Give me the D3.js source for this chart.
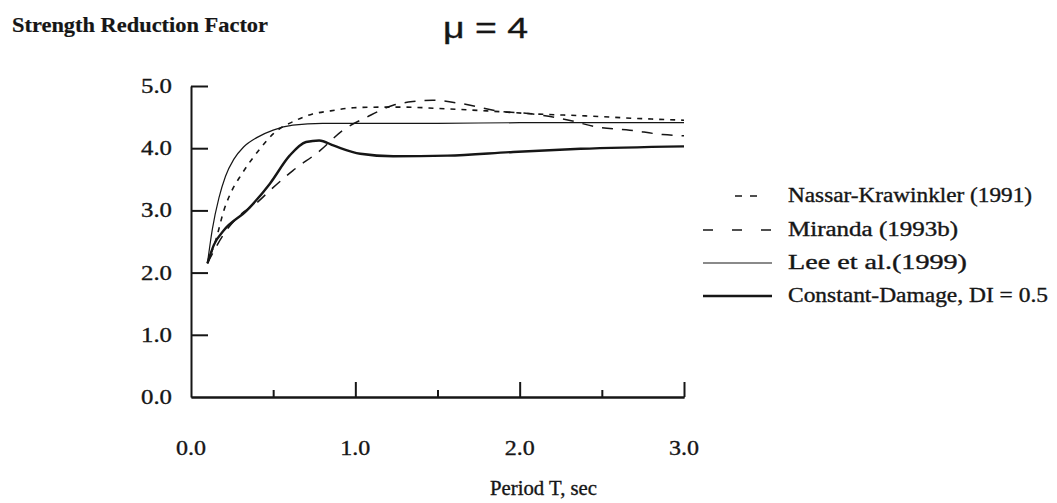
<!DOCTYPE html>
<html><head><meta charset="utf-8">
<script src="https://cdn.jsdelivr.net/npm/d3@7"></script>
<style>
body{margin:0;background:#fff}
text{font-family:"Liberation Serif","Times New Roman",serif;fill:#161616;stroke:#161616;stroke-width:0.35px}
</style>
</head><body>
<svg id="c" width="1057" height="503"></svg>
<script>
// ---- data ----
const nassarT = [0.1,0.156,0.2,0.24,0.31,0.42,0.5,0.64,0.74,0.85,0.99,1.15,1.3,1.5,1.8,2.1,2.4,2.7,3.0];
const nassarR = [2.15,2.57,3.0,3.27,3.59,3.99,4.23,4.45,4.55,4.6,4.65,4.66,4.66,4.64,4.6,4.55,4.52,4.48,4.45];
const mirandaT = [0.1,0.2,0.3,0.4,0.48,0.62,0.785,0.925,1.07,1.23,1.35,1.47,1.66,1.86,2.08,2.3,2.47,2.67,2.87,3.0];
const mirandaR = [2.15,2.62,2.93,3.12,3.32,3.64,3.96,4.29,4.5,4.69,4.75,4.77,4.71,4.6,4.55,4.45,4.34,4.29,4.22,4.2];
const leeT = [0.1,0.13,0.17,0.21,0.26,0.32,0.4,0.5,0.62,0.8,1.5,2.0,2.5,3.0];
const leeR = [2.15,2.7,3.2,3.55,3.82,4.02,4.17,4.29,4.37,4.40,4.40,4.41,4.41,4.41];
const cdT = [0.1,0.14,0.2,0.34,0.48,0.6,0.7,0.78,0.87,1.03,1.23,1.56,1.96,2.37,3.0];
const cdR = [2.15,2.45,2.68,3.0,3.43,3.88,4.10,4.125,4.04,3.91,3.87,3.88,3.94,3.99,4.03];

const seriesNames = ["Nassar-Krawinkler (1991)","Miranda (1993b)","Lee et al.(1999)","Constant-Damage, DI = 0.5"];
const xTickLabels = [0,1,2,3];
const yTickLabels = [0,1,2,3,4,5];
const xMinorTicks = [0.5,1.5,2.5];
const xMajorTicks = [1,2,3];

// ---- layout / styles ----
const svg = d3.select("#c");
const x = d3.scaleLinear().domain([0,3]).range([191,684]);
const y = d3.scaleLinear().domain([0,5]).range([397,86]);
const styles = [
  {dash:"5,6", w:1.6, legDash:"7,8", lx0:735, lx1:758},
  {dash:"11,9", w:1.5, legDash:"10,19", lx0:703, lx1:772},
  {dash:null, w:1.2, legDash:null, lx0:703, lx1:772},
  {dash:null, w:2.4, legDash:null, lx0:703, lx1:772}
];
const series = [
  d3.zip(nassarT,nassarR), d3.zip(mirandaT,mirandaR), d3.zip(leeT,leeR), d3.zip(cdT,cdR)
];

// axes
svg.append("g").attr("transform","translate(191,0)")
  .call(d3.axisRight(y).tickValues(yTickLabels.filter(v=>v>0)).tickSize(17).tickSizeOuter(0).tickFormat(""));
svg.append("g").attr("transform","translate(0,397)")
  .call(d3.axisTop(x).tickValues(xMajorTicks).tickSize(15).tickSizeOuter(0).tickFormat(""));
svg.append("g").attr("transform","translate(0,397)")
  .call(d3.axisTop(x).tickValues(xMinorTicks).tickSize(7).tickSizeOuter(0).tickFormat(""));
svg.selectAll(".domain, .tick line").attr("stroke","#161616").attr("stroke-width",2);

// tick labels
svg.append("g").selectAll("text").data(yTickLabels).join("text")
  .attr("x",172).attr("y",d=>y(d)+7).attr("text-anchor","end")
  .attr("font-size",21).attr("textLength",31).attr("lengthAdjust","spacingAndGlyphs")
  .text(d=>d.toFixed(1));
svg.append("g").selectAll("text").data(xTickLabels).join("text")
  .attr("x",d=>x(d)-15).attr("y",455)
  .attr("font-size",21).attr("textLength",30).attr("lengthAdjust","spacingAndGlyphs")
  .text(d=>d.toFixed(1));

// lines
const line = d3.line().x(d=>x(d[0])).y(d=>y(d[1])).curve(d3.curveMonotoneX);
series.forEach((s,i)=>{
  svg.append("path").datum(s).attr("d",line).attr("fill","none")
    .attr("stroke","#161616").attr("stroke-width",styles[i].w)
    .attr("stroke-dasharray",styles[i].dash);
});

// legend
const legY = [196,230,263,296];
const legW = [244,170,179,260];
seriesNames.forEach((n,i)=>{
  const st = styles[i];
  svg.append("line").attr("x1",st.lx0).attr("x2",st.lx1).attr("y1",legY[i]).attr("y2",legY[i])
    .attr("stroke","#161616").attr("stroke-width",st.w).attr("stroke-dasharray",st.legDash);
  svg.append("text").attr("x",788).attr("y",legY[i]+6).attr("font-size",20)
    .attr("textLength",legW[i]).attr("lengthAdjust","spacingAndGlyphs").text(n);
});

// titles
svg.append("text").attr("x",12).attr("y",32).attr("font-size",22).attr("font-weight","bold")
  .style("stroke-width","0.2px")
  .attr("textLength",256).attr("lengthAdjust","spacingAndGlyphs").text("Strength Reduction Factor");
svg.append("text").attr("x",443).attr("y",38).attr("font-size",29)
  .style("font-family","'Liberation Sans',Arial,sans-serif")
  .attr("textLength",85).attr("lengthAdjust","spacingAndGlyphs").text("μ = 4");
svg.append("text").attr("x",490).attr("y",495).attr("font-size",20)
  .attr("textLength",107).attr("lengthAdjust","spacingAndGlyphs").text("Period T, sec");
</script>
</body></html>
